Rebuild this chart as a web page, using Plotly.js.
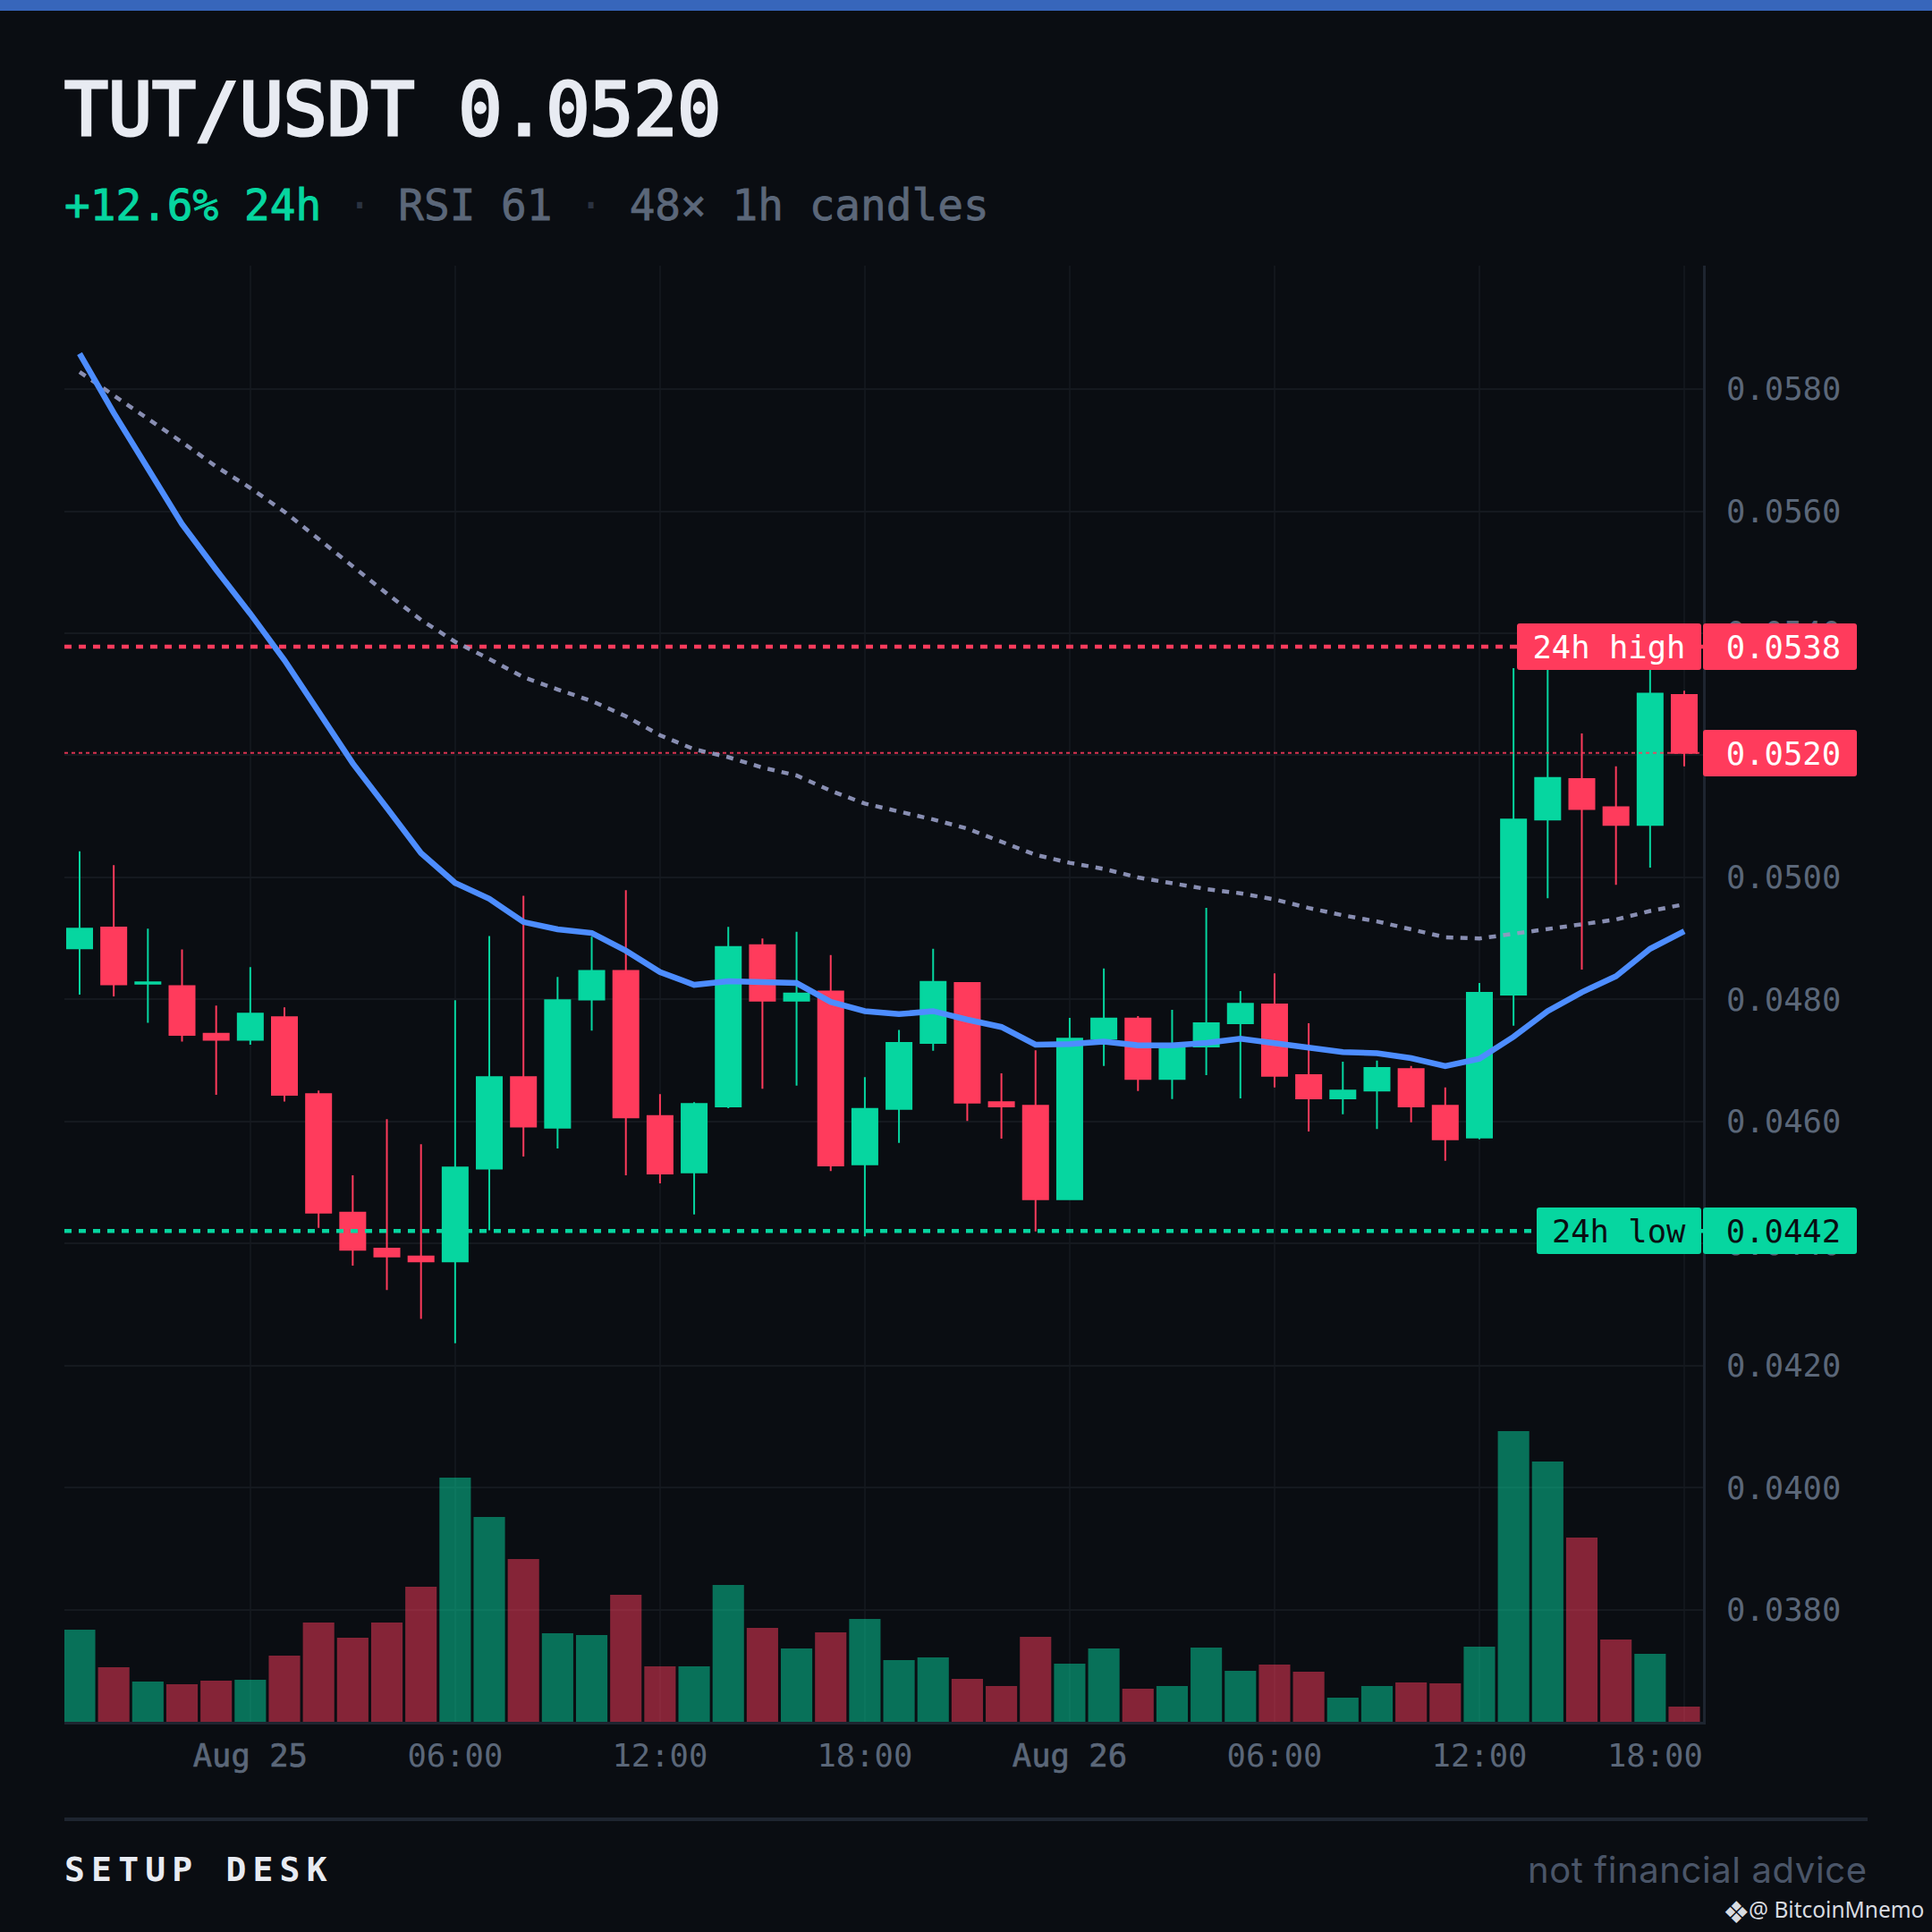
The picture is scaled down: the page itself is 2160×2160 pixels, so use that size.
<!DOCTYPE html>
<html><head><meta charset="utf-8">
<script src="https://cdn.plot.ly/plotly-3.0.1.min.js"></script>
<style>html,body{margin:0;padding:0;background:#0a0d12}#c{width:2160px;height:2160px}.annotation rect.bg{rx:3px;ry:3px}</style>
</head><body><div id="c"></div>
<script>
const times = ["2025-08-24 19:00","2025-08-24 20:00","2025-08-24 21:00","2025-08-24 22:00","2025-08-24 23:00","2025-08-25 00:00","2025-08-25 01:00","2025-08-25 02:00","2025-08-25 03:00","2025-08-25 04:00","2025-08-25 05:00","2025-08-25 06:00","2025-08-25 07:00","2025-08-25 08:00","2025-08-25 09:00","2025-08-25 10:00","2025-08-25 11:00","2025-08-25 12:00","2025-08-25 13:00","2025-08-25 14:00","2025-08-25 15:00","2025-08-25 16:00","2025-08-25 17:00","2025-08-25 18:00","2025-08-25 19:00","2025-08-25 20:00","2025-08-25 21:00","2025-08-25 22:00","2025-08-25 23:00","2025-08-26 00:00","2025-08-26 01:00","2025-08-26 02:00","2025-08-26 03:00","2025-08-26 04:00","2025-08-26 05:00","2025-08-26 06:00","2025-08-26 07:00","2025-08-26 08:00","2025-08-26 09:00","2025-08-26 10:00","2025-08-26 11:00","2025-08-26 12:00","2025-08-26 13:00","2025-08-26 14:00","2025-08-26 15:00","2025-08-26 16:00","2025-08-26 17:00","2025-08-26 18:00"];
const opens  = [.04884,.04918,.04826,.04822,.04744,.04734,.04771,.04645,.04451,.04392,.04379,.04371,.04523,.04673,.0459,.048,.04847,.04609,.04517,.04625,.04889,.04798,.04813,.0453,.04621,.04729,.04827,.04632,.04626,.04473,.04736,.04769,.0467,.04723,.04761,.04792,.04676,.04638,.04651,.04686,.04626,.04574,.04808,.05095,.05161,.05115,.05086,.05299];
const highs  = [.05043,.0502,.04916,.04882,.0479,.04853,.04787,.04651,.04512,.04604,.04563,.04799,.04904,.0497,.04837,.04903,.04979,.04645,.04632,.04919,.049,.04911,.04873,.04673,.0475,.04883,.04828,.04679,.04717,.0477,.04851,.04773,.04783,.0495,.04814,.04843,.04761,.04698,.047,.04691,.04656,.04827,.05343,.0538,.05236,.05182,.0537,.05306];
const lows   = [.04808,.04805,.04762,.04731,.04644,.04726,.04633,.04426,.04364,.04324,.04277,.04237,.04422,.04543,.04556,.04749,.04512,.04499,.04448,.04622,.04654,.04659,.04519,.04412,.04565,.04716,.04601,.04572,.0442,.04472,.04691,.0465,.04637,.04676,.04638,.04656,.04584,.04612,.04588,.04599,.04536,.04571,.04757,.04966,.04849,.04988,.05016,.05182];
const closes = [.04916,.04825,.04828,.04742,.04734,.04777,.04644,.04451,.0439,.04379,.04371,.04525,.04673,.04592,.04799,.04847,.04607,.04515,.04629,.04886,.04798,.0481,.04528,.04621,.04729,.04829,.04631,.04625,.04473,.04736,.04769,.0467,.04727,.04761,.04793,.04675,.04638,.04651,.04688,.04625,.04571,.04811,.05095,.05163,.05112,.05086,.05301,.05204];
const volumes = [103,61,45,42,46,47,74,111,94,111,151,273,229,182,99,97,142,62,62,153,105,82,100,115,69,72,48,40,95,65,82,37,40,83,57,64,56,27,40,44,43,84,325,291,206,92,76,17];
const volumeUp = [1,0,1,0,0,1,0,0,0,0,0,1,1,0,1,1,0,0,1,1,0,1,0,1,1,1,0,0,0,1,1,0,1,1,1,0,0,1,1,0,0,1,1,1,0,0,1,0];
const emaFast = [.05858,.05761,.0567,.05579,.05504,.05432,.05356,.05273,.05187,.05114,.0504,.04991,.04965,.04927,.04915,.04909,.0488,.04845,.04824,.0483,.04828,.04827,.04796,.04781,.04776,.04781,.04767,.04755,.04726,.04727,.04731,.04725,.04725,.04729,.04736,.04729,.04722,.04714,.04712,.04704,.04691,.04703,.04739,.04781,.04812,.04838,.04883,.04912];
const emaSlow = [.05828,.0579,.05752,.05713,.05673,.05638,.05599,.05554,.05508,.05465,.05422,.05386,.05358,.05328,.05308,.05289,.05264,.05233,.0521,.05197,.0518,.05167,.05142,.05121,.05108,.05095,.0508,.05059,.05037,.05024,.05014,.05,.0499,.04981,.04974,.04964,.0495,.04938,.04928,.04915,.04902,.049,.04908,.04915,.04924,.04931,.04945,.04956];
const high24 = .05378, low24 = .04421, lastPrice = .05204;
const priceTicks = [.038,.04,.042,.044,.046,.048,.05,.052,.054,.056,.058];
const timeTicks = ["2025-08-25 00:00","2025-08-25 06:00","2025-08-25 12:00","2025-08-25 18:00","2025-08-26 00:00","2025-08-26 06:00","2025-08-26 12:00","2025-08-26 18:00"];
const timeLabels = ["Aug 25","06:00","12:00","18:00","Aug 26","06:00","12:00",""];
const xSpan = ["2025-08-24 18:33:18","2025-08-26 18:33:00"];

const GREEN="#06d6a0", RED="#ff3b5c", BG="#0a0d12", MONO='"DejaVu Sans Mono", monospace', AXIS='#5b6779';
const L=72,R=1904,T=297,B=1925;
const ax=x=>(x-L)/(R-L), ay=y=>(B-y)/(B-T);
const heavy=(t,col,w)=>'<span style="stroke:'+col+';stroke-width:'+w+'px">'+t+'</span>';

function level(y,color,w,dash,op){return {type:'scatter',mode:'lines',x:xSpan,y:[y,y],line:{color,width:w,dash},opacity:op,hoverinfo:'skip',showlegend:false};}

const data=[
 {type:'bar',x:times,y:volumes,yaxis:'y2',width:volumes.map(()=>3600000*.92),marker:{color:volumeUp.map(u=>u?GREEN:RED),opacity:.5,line:{width:0}},hoverinfo:'skip',showlegend:false},
 {type:'candlestick',x:times,open:opens,high:highs,low:lows,close:closes,
  increasing:{line:{color:GREEN,width:2},fillcolor:GREEN},decreasing:{line:{color:RED,width:2},fillcolor:RED},hoverinfo:'skip',showlegend:false},
 level(high24,RED,4.5,'8px,8px',1),
 level(low24,GREEN,4.5,'8px,8px',1),
 level(lastPrice,RED,2,'4px,4px',.85),
 {type:'scatter',mode:'lines',x:times,y:emaSlow,line:{color:'#9499c0',width:4.5,dash:'8px,8px'},opacity:.92,hoverinfo:'skip',showlegend:false},
 {type:'scatter',mode:'lines',x:times,y:emaFast,line:{color:'#4d8dff',width:6.5},hoverinfo:'skip',showlegend:false}
];

function txt(text,x,y,size,color,anchor,family,extra){return Object.assign({xref:'paper',yref:'paper',x:ax(x),y:ay(y),text,showarrow:false,xanchor:anchor||'left',yanchor:'middle',borderpad:0,borderwidth:0,font:{family:family||MONO,size,color}},extra||{});}
function tag(text,yVal,x0,x1,bg,fg){return {xref:'paper',yref:'y',x:ax((x0+x1)/2),y:yVal,text,showarrow:false,xanchor:'center',yanchor:'middle',width:x1-x0,height:52,bgcolor:bg,borderpad:0,borderwidth:0,align:'center',valign:'middle',font:{family:MONO,size:35.5,color:fg}};}
const nudge='<span style="font-size:13px">&nbsp;</span>';

const annotations=[
 txt(heavy('TUT/USDT 0.0520','#e8ebf2',3.2),72,123,81.3,'#e8ebf2'),
 txt('<span style="color:'+GREEN+';stroke:'+GREEN+';stroke-width:1px">+12.6% 24h</span><span style="color:#2a3240"> · </span>'+heavy('RSI 61',AXIS,.8)+'<span style="color:#2a3240"> · </span>'+heavy('48× 1h candles',AXIS,.8),72,229,47.7,AXIS),
 txt('18:00',1850,1962,35.5,AXIS,'center'),
 tag('24h high',high24,1696,1902,RED,'#ffffff'),
 tag(nudge+high24.toFixed(4),high24,1904,2076,RED,'#ffffff'),
 tag(nudge+lastPrice.toFixed(4),lastPrice,1904,2076,RED,'#ffffff'),
 tag('24h low',low24,1718,1902,GREEN,BG),
 tag(nudge+low24.toFixed(4),low24,1904,2076,GREEN,BG),
 txt('<b><span style="letter-spacing:7.2px">SETUP DESK</span></b>',72,2090,38,'#e8ebf2'),
 txt('<span style="letter-spacing:.6px">not financial advice</span>',2088,2090,40,'#4a5568','right','Inter'),
 txt('❖',1941,2138,34,'#d8dbe0','center','"DejaVu Sans"'),
 txt('@ BitcoinMnemo',2151,2134,24.5,'#d8dbe0','right','"Noto Sans"')
];

const shapes=[
 {type:'rect',xref:'paper',yref:'paper',x0:ax(0),x1:ax(2160),y0:ay(0),y1:ay(12),fillcolor:'#3766bb',line:{width:0},layer:'above'},
 {type:'rect',xref:'paper',yref:'paper',x0:ax(72),x1:ax(2088),y0:ay(2032),y1:ay(2036),fillcolor:'#1e2530',line:{width:0},layer:'above'}
];

const layout={width:2160,height:2160,autosize:false,margin:{l:L,r:2160-R,t:T,b:2160-B,pad:0},
 paper_bgcolor:BG,plot_bgcolor:BG,showlegend:false,boxgap:.266,boxgroupgap:0,barmode:'overlay',dragmode:false,
 xaxis:{type:'date',range:xSpan,rangeslider:{visible:false},tickmode:'array',tickvals:timeTicks,
  ticktext:timeLabels.map(t=>t.startsWith('Aug')?heavy(t,AXIS,.7):t),ticks:'',
  showgrid:true,gridcolor:'#12161c',gridwidth:2,zeroline:false,showline:true,linecolor:'#1e2530',linewidth:3,
  tickfont:{family:MONO,size:35.5,color:AXIS},ticklabelstandoff:4},
 yaxis:{range:[.036168,.060022],side:'right',tickmode:'array',tickvals:priceTicks,ticktext:priceTicks.map(v=>v.toFixed(4)),ticks:'',
  showgrid:true,gridcolor:'#15191f',gridwidth:2,zeroline:false,showline:true,linecolor:'#1e2530',linewidth:3,
  tickfont:{family:MONO,size:35.5,color:AXIS},ticklabelstandoff:16},
 yaxis2:{range:[0,1628],overlaying:'y',side:'left',visible:false,showgrid:false,zeroline:false},
 annotations,shapes};
Plotly.newPlot('c',data,layout,{staticPlot:true,displayModeBar:false,responsive:false});
</script></body></html>
